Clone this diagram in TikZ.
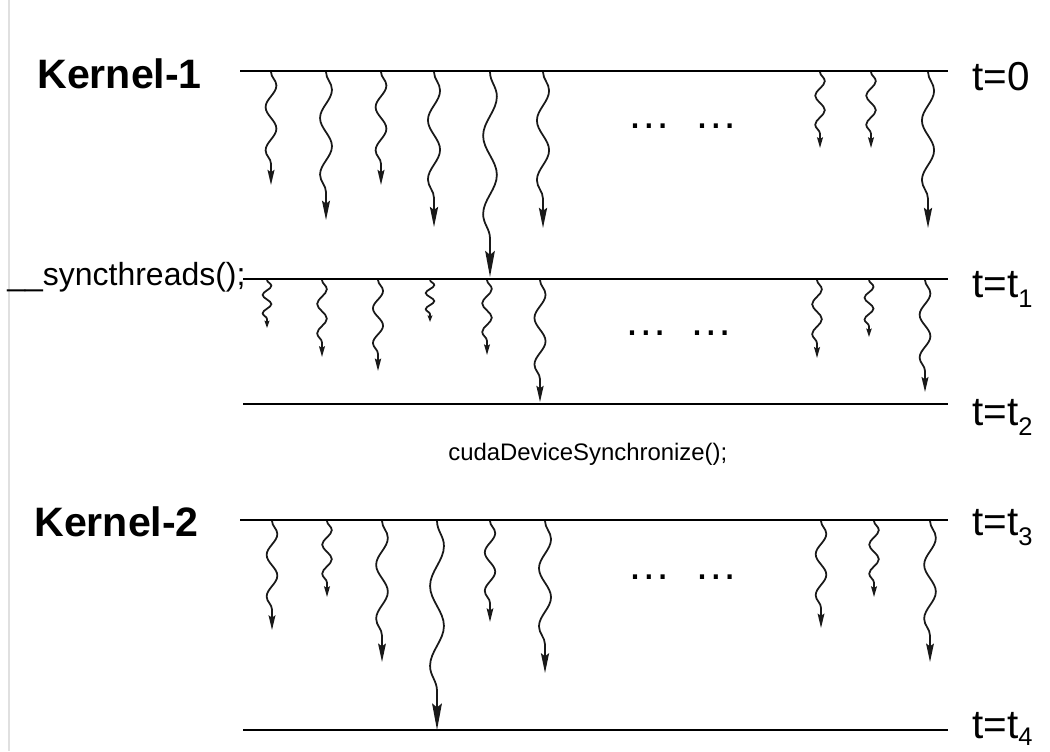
\documentclass[tikz,border=0pt]{standalone}
\usepackage{fontspec}
\setmainfont{Liberation Sans}
\usetikzlibrary{decorations.pathmorphing,arrows.meta}
\newcommand\thr[3]{%
  \pgfmathsetmacro\tl{#3-#2}%
  \pgfmathsetmacro\alen{(1.5+0.12*\tl)*0.569}%
  \pgfmathsetmacro\awid{(3.5+0.03*\tl)*0.569}%
  \pgfmathsetmacro\pst{0.17*\tl*0.569}%
  \pgfmathsetmacro\seg{0.83*\tl/2.17*0.569}%
  \pgfmathsetmacro\amp{(3.6+0.016*\tl)*0.569}%
  \draw[thread,-{Stealth[length=\alen pt,width=\awid pt,inset=0.15*\alen pt]},
    decoration={snake,segment length=\seg pt,amplitude=\amp pt,post length=\pst pt}]
    (#1,#2) -- (#1,#3);}
\begin{document}
\begin{tikzpicture}[x=0.02cm,y=-0.02cm,
  timeline/.style={line width=1.1pt},
  thread/.style={line width=1pt,black!90,decorate},
  tlabel/.style={font=\fontsize{23}{27}\selectfont,anchor=base west,inner sep=0pt},
  kernel/.style={font=\bfseries\fontsize{23.4}{28}\selectfont,anchor=base west,inner sep=0pt},
  code/.style={anchor=base west,inner sep=0pt},
  ellip/.style={font=\fontsize{24.8}{28}\selectfont,anchor=base,inner sep=0pt},
]
\useasboundingbox (0,0) rectangle (1050,751);
\draw[black!12,line width=0.6pt] (9,0) -- (9,751);

% time lines
\coordinate (L0w) at (240,71);  \coordinate (L0e) at (948,71);
\coordinate (L1w) at (243,279); \coordinate (L1e) at (948,279);
\coordinate (L2w) at (243,404); \coordinate (L2e) at (948,404);
\coordinate (L3w) at (240,520); \coordinate (L3e) at (948,520);
\coordinate (L4w) at (243,730); \coordinate (L4e) at (948,730);
\foreach \i in {0,...,4}{\draw[timeline] (L\i w) -- (L\i e);}

% labels
\node[kernel] (k1) at (37,88) {Kernel-1};
\node[kernel] (k2) at (34,536) {Kernel-2};
\node[tlabel] (t0) at (972,90) {t=0};
\node[tlabel] (t1) at (972,297) {t=t\raisebox{-5.7pt}{\fontsize{14.5}{16}\selectfont 1}};
\node[tlabel] (t2) at (972,425) {t=t\raisebox{-5.7pt}{\fontsize{14.5}{16}\selectfont 2}};
\node[tlabel] (t3) at (972,535) {t=t\raisebox{-5.7pt}{\fontsize{14.5}{16}\selectfont 3}};
\node[tlabel] (t4) at (972,738) {t=t\raisebox{-4.5pt}{\fontsize{14.5}{16}\selectfont 4}};
\node[code,font=\fontsize{18.2}{20}\selectfont] (sync) at (7,285) {\_\_syncthreads();};
\node[code,font=\fontsize{13.6}{16}\selectfont] (cuda) at (448,460) {cudaDeviceSynchronize();};

% ellipses
\node[ellip] (d1a) at (649,128) {…}; \node[ellip] (d1b) at (716,128) {…};
\node[ellip] (d2a) at (646,335) {…}; \node[ellip] (d2b) at (711,335) {…};
\node[ellip] (d3a) at (649,579) {…}; \node[ellip] (d3b) at (716,579) {…};

% threads, kernel 1
\thr{271}{72}{185}\thr{326}{72}{220}\thr{381}{72}{185}\thr{434}{72}{227}
\thr{490}{72}{277}\thr{543}{72}{228}\thr{820}{72}{148}\thr{871}{72}{148}
\thr{928}{72}{228}
% threads after __syncthreads
\thr{267}{280}{328}\thr{322}{280}{357}\thr{378}{280}{371}\thr{430}{280}{322}
\thr{487}{280}{355}\thr{540}{280}{402}\thr{817}{280}{358}\thr{869}{280}{337}
\thr{925}{280}{392}
% threads, kernel 2
\thr{272}{521}{630}\thr{327}{521}{597}\thr{382}{521}{662}\thr{437}{521}{730}
\thr{490}{521}{622}\thr{545}{521}{673}\thr{821}{521}{628}\thr{874}{521}{597}
\thr{930}{521}{662}
\end{tikzpicture}
\end{document}
